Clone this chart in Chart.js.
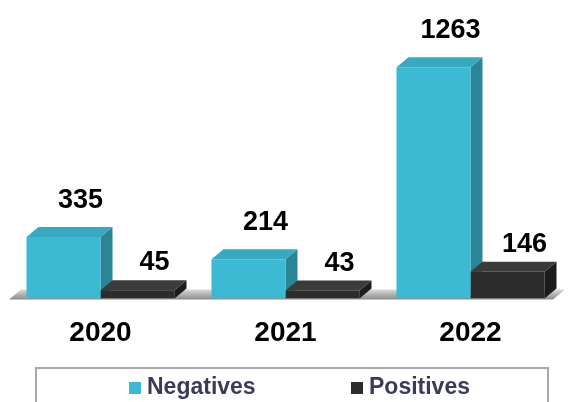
<!DOCTYPE html>
<html>
<head>
<meta charset="utf-8">
<script src="https://cdn.jsdelivr.net/npm/chart.js@4"></script>
<style>
  html, body { margin: 0; padding: 0; background: #fff; overflow: hidden; }
  #wrap { position: relative; width: 568px; height: 402px; }
  #legend {
    position: absolute; left: 35px; top: 367px; width: 514px; height: 60px;
    border: 2px solid #a8a8a8; box-sizing: border-box;
    font-family: "Liberation Sans", Arial, sans-serif; font-weight: bold; font-size: 23px;
    color: #3a3a5c;
  }
  .item { position: absolute; top: 4px; white-space: nowrap; }
  .sw { display: inline-block; width: 12px; height: 12px; margin-right: 6px; vertical-align: 0px; }
</style>
</head>
<body>
<div id="wrap">
  <canvas id="c" width="568" height="402"></canvas>
  <div id="legend"></div>
</div>
<script>
const categories = ["2020", "2021", "2022"];
const seriesNames = ["Negatives", "Positives"];
const negatives = [335, 214, 1263];
const positives = [45, 43, 146];

const FRONT = ["#3dbad3", "#2c2c2c"];
const TOP = ["#37a9c0", "#3b3b3b"];
const SIDE = ["#2a8597", "#1c1c1c"];
const DX = 12, DY = 10;
const LABEL_FONT = 'bold 27px "Liberation Sans", Arial, sans-serif';

// HTML legend
const legendEl = document.getElementById('legend');
const legendLefts = [92, 314];
seriesNames.forEach((n, i) => {
  const d = document.createElement('div');
  d.className = 'item';
  d.style.left = legendLefts[i] + 'px';
  d.innerHTML = '<span class="sw" style="background:' + FRONT[i] + '"></span>' + n;
  legendEl.appendChild(d);
});

function drawFaces(ctx, el, i) {
  const p = el.getProps(['x', 'y', 'base', 'width'], true);
  const l = p.x - p.width / 2, r = p.x + p.width / 2, t = p.y, b = p.base;
  // side
  ctx.fillStyle = SIDE[i];
  ctx.beginPath();
  ctx.moveTo(r, t); ctx.lineTo(r + DX, t - DY); ctx.lineTo(r + DX, b - DY); ctx.lineTo(r, b);
  ctx.closePath(); ctx.fill();
  // top
  ctx.fillStyle = TOP[i];
  ctx.beginPath();
  ctx.moveTo(l, t); ctx.lineTo(l + DX, t - DY); ctx.lineTo(r + DX, t - DY); ctx.lineTo(r, t);
  ctx.closePath(); ctx.fill();
}

const threeD = {
  id: 'threeD',
  beforeDatasetsDraw(chart) {
    const ctx = chart.ctx, a = chart.chartArea;
    ctx.save();
    // floor
    const g = ctx.createLinearGradient(0, a.bottom - DY, 0, a.bottom + 1);
    g.addColorStop(0, '#e2e2e2');
    g.addColorStop(1, '#8c8c8c');
    ctx.fillStyle = g;
    ctx.beginPath();
    ctx.moveTo(a.left + 1, a.bottom + 1);
    ctx.lineTo(a.left + 1 + DX, a.bottom + 1 - DY);
    ctx.lineTo(a.right + 2, a.bottom + 1 - DY);
    ctx.lineTo(a.right - 10, a.bottom + 1);
    ctx.closePath(); ctx.fill();
    chart.getDatasetMeta(0).data.forEach(el => drawFaces(ctx, el, 0));
    ctx.restore();
  },
  afterDatasetsDraw(chart) {
    const ctx = chart.ctx;
    ctx.save();
    chart.getDatasetMeta(1).data.forEach(el => drawFaces(ctx, el, 1));
    ctx.font = LABEL_FONT;
    ctx.fillStyle = '#000';
    ctx.textAlign = 'center';
    ctx.textBaseline = 'alphabetic';
    const offs = [29, 20];
    [0, 1].forEach(di => {
      const ds = chart.data.datasets[di];
      chart.getDatasetMeta(di).data.forEach((el, k) => {
        ctx.fillText(String(ds.data[k]), el.x + 17, el.y - offs[di]);
      });
    });
    ctx.restore();
  }
};

new Chart(document.getElementById('c'), {
  type: 'bar',
  data: {
    labels: categories,
    datasets: [
      { label: seriesNames[0], data: negatives, backgroundColor: FRONT[0] },
      { label: seriesNames[1], data: positives, backgroundColor: FRONT[1] }
    ]
  },
  options: {
    responsive: false,
    animation: false,
    events: [],
    layout: { padding: { left: 8, right: 5, top: 10, bottom: 34 } },
    categoryPercentage: 0.8,
    barPercentage: 1.0,
    plugins: { legend: { display: false }, tooltip: { enabled: false } },
    scales: {
      x: {
        grid: { display: false, drawTicks: false },
        border: { display: false },
        ticks: {
          color: '#000', padding: 18,
          font: { family: '"Liberation Sans", Arial, sans-serif', weight: 'bold', size: 28 }
        }
      },
      y: { display: false, min: 0, max: 1575 }
    }
  },
  plugins: [threeD]
});
</script>
</body>
</html>
